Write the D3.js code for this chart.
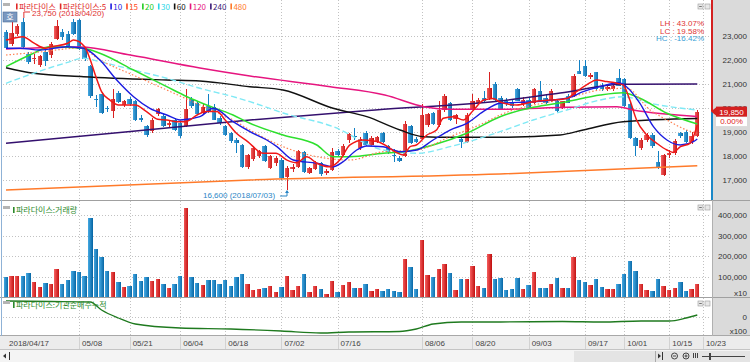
<!DOCTYPE html>
<html>
<head>
<meta charset="utf-8">
<script src="https://cdn.jsdelivr.net/npm/d3@7"></script>
<style>
  body { margin: 0; background: #fff; }
  svg { display: block; font-family: 'Liberation Sans', Arial, sans-serif; font-size: 8px; }
</style>
</head>
<body>
<svg id="chart" width="750" height="362"></svg>
<script>
// daily candles 2018/04/17 .. 2018/10/23, [open, high, low, close]
const ohlc = [
  [23170, 23250, 22450, 22500], [22680, 23590, 22600, 23140], [23100, 23500, 23000, 23420], [23590, 23750, 22480, 22540],
  [22260, 22350, 21850, 21900], [22030, 22250, 21830, 22070], [21800, 22200, 21700, 22160], [22350, 22400, 21750, 21950],
  [22190, 22750, 22100, 22680], [22890, 23650, 22850, 23420], [23150, 23300, 22850, 22950], [23100, 23200, 22500, 22600],
  [23590, 23700, 23050, 23100], [23650, 23700, 22400, 22470], [22470, 22550, 21950, 22050], [21760, 21800, 20400, 20500],
  [20380, 20550, 20050, 20360], [20570, 20650, 19750, 19800], [20000, 20100, 19850, 19950], [19870, 20800, 19570, 20360],
  [20610, 20700, 20200, 20250], [20110, 20350, 20050, 20290], [20360, 20450, 20100, 20150], [20300, 20350, 19450, 19520],
  [19590, 19700, 19400, 19520], [19240, 19300, 18800, 18890], [19030, 19600, 18950, 19520], [19730, 20000, 19650, 19940],
  [19660, 19750, 19200, 19240], [19300, 19450, 19200, 19380], [19520, 19600, 19050, 19100], [19380, 19450, 18750, 18820],
  [19240, 20800, 19200, 19940], [20360, 20450, 20000, 20080], [20220, 20300, 19700, 19730], [19800, 20150, 19750, 20050],
  [20080, 20570, 19800, 19870], [20050, 20150, 19500, 19520], [19590, 19650, 19300, 19380], [19240, 19300, 18850, 18890],
  [18960, 19000, 18550, 18610], [18680, 18750, 18120, 18540], [18470, 18500, 17500, 17560], [17560, 18100, 17450, 18050],
  [17860, 18400, 17800, 18330], [18000, 18250, 17900, 18200], [18400, 18450, 17750, 17780], [17500, 18050, 17450, 17980],
  [17700, 18000, 17600, 17900], [17840, 17900, 17000, 17070], [17140, 17600, 16600, 17490], [17450, 17650, 17350, 17560],
  [17560, 18250, 17500, 18190], [18150, 18200, 17300, 17350], [17300, 17550, 17250, 17480], [17450, 17800, 17400, 17700],
  [17700, 17750, 17150, 17250], [17280, 17450, 17200, 17380], [17420, 18350, 17380, 18180], [18200, 18300, 17950, 18050],
  [18050, 18500, 18000, 18400], [18650, 18950, 18550, 18900], [18850, 19150, 18650, 18780], [18350, 18800, 18250, 18700],
  [18950, 19050, 18400, 18450], [18450, 18850, 18400, 18750], [18600, 18850, 18550, 18800], [18950, 19000, 18550, 18600],
  [18400, 18450, 18100, 18150], [18050, 18300, 17750, 18000], [17900, 18000, 17750, 17800], [18000, 19450, 17950, 19350],
  [19250, 19300, 18500, 18550], [18700, 18800, 18550, 18600], [18700, 20150, 18650, 19700], [19300, 19800, 19200, 19750],
  [19800, 19850, 19300, 19350], [19300, 20300, 19200, 19900], [19900, 20600, 19850, 20500], [20200, 20250, 19450, 19500],
  [19550, 19750, 19350, 19700], [18700, 18750, 18350, 18580], [18600, 19800, 18550, 19700], [19950, 20600, 19900, 20300],
  [20200, 20400, 20150, 20350], [20400, 20700, 20250, 20300], [20430, 21500, 20350, 20850], [21000, 21100, 20300, 20350],
  [20430, 20500, 19900, 19940], [20300, 20400, 20100, 20150], [20200, 20350, 20000, 20100], [20780, 20850, 20280, 20290],
  [20150, 20450, 20100, 20350], [20350, 20400, 19950, 20000], [20220, 20850, 20150, 20780], [20700, 21130, 20250, 20300],
  [20400, 20550, 20150, 20200], [20290, 20800, 20250, 20710], [20290, 20350, 19850, 19870], [20010, 20300, 19950, 20290],
  [20500, 20600, 20200, 20220], [20500, 21400, 20450, 21340], [21550, 21980, 21400, 21420], [21770, 21980, 21300, 21350],
  [21300, 21450, 21200, 21380], [21480, 21500, 20750, 20780], [20920, 21050, 20700, 20780], [20800, 20950, 20700, 20880],
  [20780, 21000, 20700, 20920], [21270, 21620, 20900, 20920], [21200, 21250, 20050, 20100], [20150, 20200, 18700, 18750],
  [18750, 18800, 18000, 18400], [18330, 18750, 18250, 18680], [18680, 18950, 18600, 18880], [18880, 18950, 18350, 18400],
  [17770, 18200, 17450, 17490], [17200, 18100, 17150, 18050], [18050, 18250, 17900, 18130], [18130, 18700, 18050, 18610],
  [18950, 19000, 18750, 18820], [19000, 19100, 18550, 18600], [18600, 19000, 18500, 18820], [18850, 19900, 18800, 19850]
];

// volume, axis units (x10)
const volumes = [
  96000, 103000, 102000, 103000, 118000, 72000, 47000, 67000, 62000, 137000, 65000, 83000, 127000, 124000, 103000, 386000,
  237000, 198000, 129000, 124000, 72000, 49000, 52000, 114000, 80000, 98000, 80000, 90000, 65000, 44000, 62000, 103000,
  435000, 96000, 70000, 59000, 82000, 83000, 65000, 82000, 55000, 96000, 114000, 65000, 36000, 38000, 46000, 54000,
  24000, 49000, 102000, 33000, 55000, 113000, 24000, 55000, 41000, 16000, 78000, 23000, 59000, 72000, 42000, 44000,
  62000, 31000, 38000, 31000, 39000, 31000, 23000, 185000, 149000, 39000, 279000, 106000, 96000, 136000, 160000, 116000,
  36000, 87000, 87000, 152000, 55000, 44000, 209000, 87000, 93000, 36000, 38000, 93000, 38000, 57000, 121000, 44000,
  42000, 62000, 93000, 42000, 42000, 198000, 83000, 74000, 59000, 88000, 49000, 39000, 39000, 65000, 111000, 176000,
  127000, 62000, 36000, 31000, 88000, 52000, 33000, 42000, 72000, 31000, 39000, 65000
];

const tickLabels = ['2018/04/17', '05/08', '05/21', '06/04', '06/18', '07/02', '07/16', '08/06', '08/20', '09/03', '09/17', '10/01', '10/15', '10/23'];
const tickIndex = [0, 13, 22, 31, 39, 49, 59, 74, 83, 93, 103, 110, 118, 124];

// moving averages, [candle index, price]
const ma5 = [[0, 22833], [1.3, 22900], [3, 22970], [5, 22700], [7, 22490], [8, 22550], [11, 22700], [12, 22830], [14, 22550],
  [15, 22000], [16, 21300], [17, 20680], [18.5, 20330], [20, 20125], [21.5, 20125], [23, 20125], [25, 19850], [27, 19530],
  [28.6, 19500], [30.4, 19430], [32, 19430], [34, 19710], [35.7, 19850], [37.5, 19850], [39, 19500], [41, 18950], [43, 18600],
  [45.8, 18110], [48, 18110], [50, 17830], [51.7, 17720], [53.5, 17970], [55.3, 17700], [57.6, 17550], [59.4, 17830],
  [61.2, 18460], [63.6, 18670], [66, 18600], [67.7, 18420], [69.5, 18140], [70.7, 18040], [71.9, 18390], [73, 18460],
  [74.9, 18875], [76.6, 19080], [77.8, 19570], [79.6, 19640], [81.4, 19500], [83.2, 19920], [85, 20330], [86.7, 20400],
  [87.9, 20250], [90.9, 20125], [93.8, 20260], [96.8, 20330], [99.8, 20400], [101.5, 20680], [103.3, 20960], [105.1, 21170],
  [106.9, 21100], [108.7, 21030], [109.8, 20960], [111, 20330], [112.2, 19500], [114, 18875], [115.8, 18530], [117.6, 18250],
  [118.7, 18150], [120, 18390], [121.7, 18530], [123, 19290]];
const ma10 = [[0, 22488], [2.5, 22488], [6, 22417], [10.8, 22554], [13.8, 22488], [16.7, 22000], [19.7, 21167], [22.7, 20471],
  [25.6, 19988], [28.6, 19708], [31, 19500], [34.5, 19638], [36.9, 19988], [40.4, 19429], [43.4, 19013], [46.4, 18667],
  [48.2, 18388], [51.1, 17833], [55.3, 17696], [58.2, 17554], [60, 17763], [62.4, 18250], [64.2, 18417], [67.1, 18388],
  [70.1, 18179], [73.1, 18250], [76, 18667], [79, 19083], [82, 19363], [84.9, 19846], [87.9, 20196], [93.8, 20263],
  [99.8, 20404], [102.7, 20679], [105.7, 20888], [109, 21054], [110.4, 20888], [112.8, 20196], [115.2, 19221], [117.6, 18667],
  [120, 18458], [122.3, 18596], [123, 18710]];
const ma15 = [[0, 22208], [6, 22333], [13.2, 22500], [16.7, 22000], [22.6, 21375], [28.6, 20750], [34.5, 20125], [40.4, 19500],
  [43.4, 19083], [49.3, 18388], [55.3, 17971], [61.2, 17833], [67.1, 18179], [73.1, 18250], [79, 18804], [84.9, 19363],
  [87.9, 19708], [99.8, 20404], [105.7, 20750], [110.4, 20821], [114.6, 19917], [117.6, 19500], [121.1, 19083], [123, 18946]];
const ma20 = [[0, 21721], [4.9, 22279], [7.8, 22554], [13.8, 22488], [16.7, 22279], [22.7, 21583], [28.6, 20888], [32.2, 20471],
  [35.7, 20125], [40.4, 19708], [43.4, 19363], [49.3, 18875], [55.3, 18458], [58.2, 17971], [61.2, 17971], [67.1, 18113],
  [70.7, 18179], [76, 18458], [82, 18946], [87.9, 19638], [93.8, 20029], [99.8, 20263], [105.7, 20542], [109.8, 20638],
  [112.8, 20404], [117.6, 19779], [123, 19333]];
const ma30 = [[0, 21029], [4.9, 21446], [10.8, 21888], [13.8, 22071], [16.7, 21929], [22.7, 21583], [28.6, 21238], [34.5, 20821],
  [40.4, 20471], [43.4, 20263], [49.3, 19792], [58.2, 19221], [67.1, 18250], [73.1, 18113], [79, 18388], [87.9, 19013],
  [93.8, 19500], [99.8, 19917], [105.7, 20333], [109.8, 20471], [114.6, 20196], [123, 19917]];
const ma60 = [[0, 21679], [4.9, 21446], [13.8, 21304], [28.6, 21167], [34.5, 21125], [43.4, 20888], [49.3, 20750], [58.2, 19988],
  [64.2, 19638], [70.1, 19083], [74.3, 18804], [79, 18779], [87.9, 18779], [98.6, 18875], [102.7, 19083], [109.8, 19429],
  [123, 19563]];
const ma120 = [[0, 22458], [13.2, 22542], [22.1, 22208], [34.5, 21667], [43.4, 21333], [57.7, 20888], [67.4, 20542], [74.6, 20042],
  [79, 19946], [87.9, 19946], [99.8, 20029], [108.7, 20054], [111.6, 19917], [123, 19646]];
const ma240 = [[0, 18529], [21.2, 19000], [43.4, 19500], [65.7, 19917], [87.9, 20292], [98.6, 20625], [109.8, 20988], [123, 21000]];
const ma480 = [[0, 16583], [43.4, 17000], [87.9, 17250], [123, 17596]];

// institutional net buying, cumulative (x100)
const instCum = [[0, 1600], [8, 1550], [15, 1500], [17, 700], [20, -100], [23, -700], [31, -1100], [40, -1200], [49, -1400],
  [56, -1600], [61, -1500], [70, -1450], [73, -1200], [76, -700], [81, -500], [88, -500], [99, -450], [106, -500],
  [113, -400], [118, -400], [121, -100], [123, 200]];

const legendNames = ['파라다이스', '파라다이스:5', '10', '15', '20', '30', '60', '120', '240', '480'];
const legendColors = ['#e02828', '#e02828', '#1c1ce0', '#ff4a22', '#22cc22', '#2ad6e6', '#111111', '#e6157f', '#3a1a78', '#ff7a2a'];
const ratioLabels = ['LH :  43.07%', 'LC :  19.58%', 'HC : -16.42%'];
const lastPrice = 19850;

const upColor = '#d92020';
const dnColor = '#1180c4';

const svg = d3.select('#chart');
const defs = svg.append('defs');
function grad(id, c1, c2) {
  const g = defs.append('linearGradient').attr('id', id)
    .attr('x1', 0).attr('x2', 1).attr('y1', 0).attr('y2', 0);
  g.append('stop').attr('offset', 0).attr('stop-color', c1);
  g.append('stop').attr('offset', 1).attr('stop-color', c2);
}
grad('gUp', '#f45c5c', '#c41414');
grad('gDn', '#44a8e2', '#0a6aa8');

const x = d3.scaleLinear().domain([0, 124]).range([6, 702.9]);
const yP = d3.scaleLinear().domain([17000, 23000]).range([180, 36]);
const yV = d3.scaleLinear().domain([0, 400000]).range([297, 215.4]);
const yI = d3.scaleLinear().domain([0, 1500]).range([317, 302]);

// backgrounds
svg.append('rect').attr('width', 750).attr('height', 362).attr('fill', '#fff');
svg.append('rect').attr('x', 713).attr('y', 0).attr('width', 37).attr('height', 336).attr('fill', '#dadada');
svg.append('rect').attr('x', 0).attr('y', 336).attr('width', 750).attr('height', 14).attr('fill', '#ececec');
svg.append('rect').attr('x', 0).attr('y', 350).attr('width', 750).attr('height', 12).attr('fill', '#f4f4f4');
svg.append('rect').attr('x', 574).attr('y', 351).attr('width', 176).attr('height', 11).attr('fill', '#e4e4e4');

// grid
const grid = svg.append('g').attr('stroke', '#c2c2c2').attr('stroke-dasharray', '1,2')
  .attr('shape-rendering', 'crispEdges');
[[0, 200], [201, 297], [298, 335]].forEach(([t, b]) => {
  grid.selectAll(null).data(tickIndex.slice(1)).enter().append('line')
    .attr('x1', d => Math.round(x(d)) + 0.5).attr('x2', d => Math.round(x(d)) + 0.5)
    .attr('y1', t).attr('y2', b);
});
grid.selectAll(null).data(d3.range(17000, 23001, 1000)).enter().append('line')
  .attr('x1', 3).attr('x2', 711).attr('y1', d => Math.round(yP(d)) + 0.5).attr('y2', d => Math.round(yP(d)) + 0.5);
grid.selectAll(null).data([100000, 200000, 300000, 400000]).enter().append('line')
  .attr('x1', 3).attr('x2', 711).attr('y1', d => Math.round(yV(d)) + 0.5).attr('y2', d => Math.round(yV(d)) + 0.5);
grid.append('line').attr('x1', 3).attr('x2', 711).attr('y1', Math.round(yI(0)) + 0.5).attr('y2', Math.round(yI(0)) + 0.5);

// date band tick separators
svg.append('g').selectAll('line').data(tickIndex.slice(1)).join('line')
  .attr('x1', d => Math.round(x(d)) + 0.5).attr('x2', d => Math.round(x(d)) + 0.5)
  .attr('y1', 337).attr('y2', 349).attr('stroke', '#d2d2d2');

// frame lines
const frame = svg.append('g').attr('shape-rendering', 'crispEdges');
[[200.5, '#a0a0a0'], [297.5, '#a0a0a0'], [335.5, '#a8a8a8'], [349.5, '#c4c4c4']].forEach(([yy, c]) => {
  frame.append('line').attr('x1', 0).attr('x2', 750).attr('y1', yy).attr('y2', yy).attr('stroke', c);
});
frame.append('line').attr('x1', 1.5).attr('x2', 1.5).attr('y1', 0).attr('y2', 336).attr('stroke', '#8fb2d6');
frame.append('line').attr('x1', 712.5).attr('x2', 712.5).attr('y1', 200).attr('y2', 336).attr('stroke', '#b0b0b0');

// candles
const cg = svg.append('g').attr('shape-rendering', 'crispEdges');
cg.selectAll('.wick').data(ohlc).join('rect').attr('class', 'wick')
  .attr('x', (d, i) => Math.round(x(i)) - 0.5).attr('width', 1)
  .attr('y', d => yP(d[1])).attr('height', d => yP(d[2]) - yP(d[1]))
  .attr('fill', d => (d[3] >= d[0] ? upColor : dnColor));
cg.selectAll('.body').data(ohlc).join('rect').attr('class', 'body')
  .attr('x', (d, i) => x(i) - 2.2).attr('width', 4.4)
  .attr('y', d => yP(Math.max(d[0], d[3])))
  .attr('height', d => Math.max(1, Math.abs(yP(d[0]) - yP(d[3]))))
  .attr('fill', d => (d[3] >= d[0] ? 'url(#gUp)' : 'url(#gDn)'));

// moving averages
const maLine = d3.line().x(d => x(d[0])).y(d => yP(d[1])).curve(d3.curveMonotoneX);
const maDefs = [
  { data: ma480, color: '#ff7a2a', width: 1.5 },
  { data: ma240, color: '#34106e', width: 1.5 },
  { data: ma120, color: '#e6157f', width: 1.5 },
  { data: ma60, color: '#111', width: 1.4 },
  { data: ma30, color: '#7fe9f5', width: 1.4, dash: '6,3' },
  { data: ma20, color: '#2ee02e', width: 1.5 },
  { data: ma15, color: '#ff7f50', width: 1.2, dash: '1.5,2' },
  { data: ma10, color: '#1c1ce0', width: 1.4 },
  { data: ma5, color: '#f01818', width: 1.5 },
];
svg.append('g').selectAll('path').data(maDefs).join('path')
  .attr('d', d => maLine(d.data)).attr('fill', 'none')
  .attr('stroke', d => d.color).attr('stroke-width', d => d.width)
  .attr('stroke-dasharray', d => d.dash || null);

// volume bars
svg.append('g').attr('shape-rendering', 'crispEdges').selectAll('rect').data(volumes).join('rect')
  .attr('x', (d, i) => x(i) - 2.2).attr('width', 4.4)
  .attr('y', d => yV(d)).attr('height', d => yV(0) - yV(d))
  .attr('fill', (d, i) => (ohlc[i][3] >= ohlc[i][0] ? 'url(#gUp)' : 'url(#gDn)'));

// institutional cumulative line
svg.append('path').datum(instCum)
  .attr('d', d3.line().x(d => x(d[0])).y(d => yI(d[1])).curve(d3.curveMonotoneX))
  .attr('fill', 'none').attr('stroke', '#1f7a1f').attr('stroke-width', 1.3);

// right axes
function rightAxis(scale, values) {
  const g = svg.append('g').attr('transform', 'translate(747,0)')
    .call(d3.axisLeft(scale).tickValues(values).tickFormat(d3.format(',')).tickSize(0).tickPadding(0));
  g.select('.domain').remove();
  g.selectAll('text').attr('fill', '#333').style('font-size', '8px')
    .style('font-family', "'Liberation Sans', Arial, sans-serif");
}
rightAxis(yP, d3.range(17000, 23001, 1000));
rightAxis(yV, [100000, 200000, 300000, 400000]);
rightAxis(yI, [0]);
svg.append('text').attr('x', 747).attr('y', 296).attr('text-anchor', 'end').attr('fill', '#333').text('x10');
svg.append('text').attr('x', 747).attr('y', 334).attr('text-anchor', 'end').attr('fill', '#333').text('x100');

// date axis
const gx = svg.append('g').attr('transform', 'translate(0,340.5)')
  .call(d3.axisBottom(x).tickValues(tickIndex).tickFormat((d, i) => tickLabels[i]).tickSize(0).tickPadding(0));
gx.select('.domain').remove();
gx.selectAll('text').attr('text-anchor', 'start').attr('dx', 2.5).attr('fill', '#444')
  .style('font-size', '8px').style('font-family', "'Liberation Sans', Arial, sans-serif");

// current price marker
const yLast = yP(lastPrice);
svg.append('rect').attr('x', 711).attr('y', 0).attr('width', 2).attr('height', yLast).attr('fill', '#d42020');
svg.append('rect').attr('x', 711).attr('y', yLast).attr('width', 2).attr('height', 200 - yLast).attr('fill', '#1a88c8');
svg.append('polygon').attr('points', `711,${yLast} 716,${yLast - 4} 716,${yLast + 4}`).attr('fill', '#d42020');
svg.append('rect').attr('x', 716).attr('y', yLast - 5).attr('width', 31).attr('height', 10).attr('fill', '#d42020');
svg.append('text').attr('x', 731.5).attr('y', yLast + 3).attr('text-anchor', 'middle').attr('fill', '#fff')
  .text(d3.format(',')(lastPrice));
svg.append('rect').attr('x', 716).attr('y', yLast + 5.5).attr('width', 31).attr('height', 9).attr('fill', '#fff');
svg.append('text').attr('x', 731.5).attr('y', yLast + 12.5).attr('text-anchor', 'middle').attr('fill', '#e02020')
  .text('0.00%');

// ratio labels
svg.selectAll('.ratio').data(ratioLabels).join('text').attr('class', 'ratio')
  .attr('x', 704).attr('y', (d, i) => 26 + i * 7.7).attr('text-anchor', 'end')
  .attr('fill', (d, i) => (i < 2 ? '#e03434' : '#3a9ed6')).text(d => d);

// high / low annotations
const hiX = x(3);
svg.append('text').attr('x', 32).attr('y', 15.5).attr('fill', '#e03030').text('23,750 (2018/04/20)');
svg.append('path').attr('d', `M${hiX + 1},18 V12 H30`).attr('fill', 'none').attr('stroke', '#e03030');
const loX = x(50);
svg.append('text').attr('x', 203).attr('y', 198).attr('fill', '#2a86c6').text('16,600 (2018/07/03)');
svg.append('path').attr('d', `M280,196 H${loX} V191`).attr('fill', 'none').attr('stroke', '#2a86c6');
svg.append('polygon').attr('points', `${loX - 2},193 ${loX + 2},193 ${loX},190`).attr('fill', '#2a86c6');

// legend
const kr = "'Noto Sans CJK KR', 'Liberation Sans', sans-serif";
let lx = 16;
legendNames.forEach((name, i) => {
  svg.append('rect').attr('x', lx).attr('y', 3.5).attr('width', 1.6).attr('height', 6).attr('fill', legendColors[i]);
  const t = svg.append('text').attr('x', lx + 3).attr('y', 10).attr('fill', legendColors[i])
    .style('font-family', kr).style('font-size', '8px').text(name);
  lx += 3 + t.node().getComputedTextLength() + 4;
});

// panel titles
function panelTitle(y, label) {
  svg.append('rect').attr('x', 3).attr('y', y - 7).attr('width', 7).attr('height', 3).attr('fill', '#b4b4b4');
  svg.append('rect').attr('x', 13).attr('y', y - 6).attr('width', 1.6).attr('height', 6).attr('fill', '#2c8a2c');
  svg.append('text').attr('x', 16).attr('y', y).attr('fill', '#2c8a2c')
    .style('font-family', kr).style('font-size', '8px').text(label);
}
panelTitle(213, '파라다이스:거래량');
panelTitle(308, '파라다이스:기관순매수누적');
svg.append('rect').attr('x', 3).attr('y', 3).attr('width', 7).attr('height', 3).attr('fill', '#b4b4b4');
svg.append('rect').attr('x', 3).attr('y', 12).attr('width', 14).attr('height', 10).attr('fill', '#7a98c0')
  .attr('stroke', '#4e6e98').attr('stroke-width', 0.6);
svg.append('text').attr('x', 10).attr('y', 20).attr('text-anchor', 'middle').attr('fill', '#fff')
  .style('font-family', kr).style('font-size', '8px').text('호');

// panel buttons
[4, 205, 301].forEach((yy) => {
  [698, 705].forEach((xx, k) => {
    svg.append('rect').attr('x', xx).attr('y', yy).attr('width', 5).attr('height', 5)
      .attr('fill', '#e8e8e8').attr('stroke', '#9a9a9a').attr('stroke-width', 0.6);
    svg.append('line').attr('x1', xx + 1.2).attr('x2', xx + 3.8).attr('y1', yy + 2.5).attr('y2', yy + 2.5)
      .attr('stroke', k ? 'none' : '#555').attr('stroke-width', 0.8);
  });
});

// scroll bar controls
svg.append('polygon').attr('points', '3,356 6,353.5 6,358.5').attr('fill', '#333');
svg.append('line').attr('x1', 9.5).attr('x2', 9.5).attr('y1', 352).attr('y2', 360).attr('stroke', '#333');
svg.append('line').attr('x1', 655.5).attr('x2', 655.5).attr('y1', 351).attr('y2', 362).attr('stroke', '#aaa');
svg.append('polygon').attr('points', '658,353.5 661,356 658,358.5').attr('fill', '#333');
svg.append('line').attr('x1', 662.5).attr('x2', 662.5).attr('y1', 352).attr('y2', 360).attr('stroke', '#333');
[674.5, 686].forEach((cx, k) => {
  svg.append('circle').attr('cx', cx).attr('cy', 356).attr('r', 3).attr('fill', 'none').attr('stroke', '#444');
  svg.append('line').attr('x1', cx - 1.5).attr('x2', cx + 1.5).attr('y1', 356).attr('y2', 356).attr('stroke', '#444');
  if (k) svg.append('line').attr('x1', cx).attr('x2', cx).attr('y1', 354.5).attr('y2', 357.5).attr('stroke', '#444');
});
[693, 695, 697].forEach((xx) => {
  svg.append('line').attr('x1', xx + 0.5).attr('x2', xx + 0.5).attr('y1', 353).attr('y2', 358).attr('stroke', '#444');
});
svg.append('line').attr('x1', 702).attr('x2', 745).attr('y1', 356.5).attr('y2', 356.5).attr('stroke', '#444');
svg.append('rect').attr('x', 709).attr('y', 353).attr('width', 2).attr('height', 7).attr('fill', '#444');
</script>
</body>
</html>
